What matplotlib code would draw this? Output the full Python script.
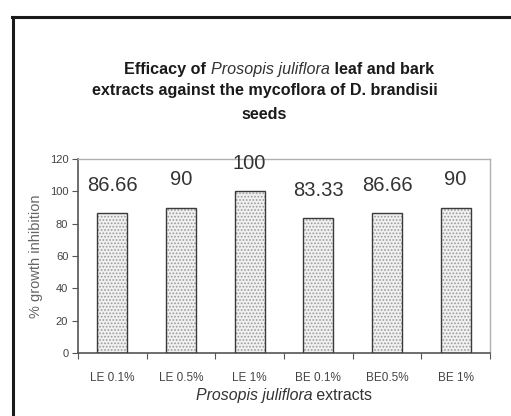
import matplotlib
matplotlib.use("Agg")
import matplotlib.pyplot as plt
from matplotlib.lines import Line2D
import numpy as np

plt.rcParams['font.family'] = ['Liberation Sans', 'DejaVu Sans']

categories = ["LE 0.1%", "LE 0.5%", "LE 1%", "BE 0.1%", "BE0.5%", "BE 1%"]
values = [86.66, 90, 100, 83.33, 86.66, 90]
value_labels = ["86.66", "90", "100", "83.33", "86.66", "90"]
yticks = [0, 20, 40, 60, 80, 100, 120]

W, H = 511, 416
fig = plt.figure(figsize=(W / 100, H / 100), dpi=100)
fig.patch.set_facecolor('white')

# outer frame
fig.add_artist(Line2D([13 / W, 13 / W], [0, 1 - 17 / H], color='#1a1a1a', lw=2.2,
                      transform=fig.transFigure))
fig.add_artist(Line2D([12 / W, 1], [1 - 17 / H, 1 - 17 / H], color='#1a1a1a', lw=2.2,
                      transform=fig.transFigure))

ax = fig.add_axes([78 / W, 1 - 353 / H, (490 - 78) / W, (353 - 159) / H])
x = np.arange(len(categories))

plt.rcParams['hatch.linewidth'] = 0.8
ax.bar(x, values, width=0.44, color='#f0f0f0', edgecolor='#9a9a9a', hatch='.....',
       linewidth=0, zorder=2)
ax.bar(x, values, width=0.44, fill=False, edgecolor='#3a3a3a', linewidth=1.0, zorder=3)

for xi, v, lab in zip(x, values, value_labels):
    ax.annotate(lab, (xi, v), xytext=(0, 13), textcoords='offset points',
                ha='center', va='bottom', fontsize=14.5, color='#333333')

ax.set_xlim(-0.5, len(categories) - 0.5)
ax.set_ylim(0, 120)
ax.set_yticks(yticks)
ax.set_yticklabels([str(t) for t in yticks], fontsize=8, color='#444444')
ax.set_xticks(np.arange(-0.5, len(categories), 1.0))
ax.set_xticklabels([])
ax.set_xticks(x, minor=True)
ax.set_xticklabels(categories, minor=True, fontsize=8.5, color='#444444')
ax.tick_params(axis='x', which='minor', length=0, pad=14)
ax.tick_params(axis='x', which='major', length=4, direction='out', color='#555555')
ax.tick_params(axis='y', length=4, direction='out', color='#555555', pad=3)

for s in ['left', 'bottom']:
    ax.spines[s].set_color('#555555')
    ax.spines[s].set_linewidth(1.2)
for s in ['top', 'right']:
    ax.spines[s].set_color('#b0b0b0')
    ax.spines[s].set_linewidth(1.0)

ax.set_ylabel("% growth inhibition", fontsize=10.5, color='#666666', labelpad=5)


def draw_segments(segments, x_start, y, fig, ha='left'):
    renderer = fig.canvas.get_renderer()
    widths = []
    texts = []
    for txt, kw in segments:
        t = fig.text(0, 0, txt, **kw)
        bb = t.get_window_extent(renderer=renderer)
        widths.append(bb.width)
        texts.append(t)
    total = sum(widths)
    if ha == 'center':
        cur = x_start - total / 2
    else:
        cur = x_start
    for t, w in zip(texts, widths):
        t.set_position((cur / W, 1 - y / H))
        t.set_va('baseline')
        cur += w


fig.canvas.draw()
bold = dict(fontsize=11.6, fontweight='bold', color='#1a1a1a')
ital = dict(fontsize=11.6, fontstyle='italic', color='#333333')
draw_segments([("Efficacy of ", bold), ("Prosopis juliflora", ital),
               (" leaf and bark", bold)], 279, 74, fig, ha='center')
draw_segments([("extracts against the mycoflora of D. brandisii", bold)], 265, 95, fig, ha='center')
draw_segments([("seeds", bold)], 264, 119, fig, ha='center')

xl_i = dict(fontsize=11.4, fontstyle='italic', color='#333333')
xl_n = dict(fontsize=11.4, color='#333333')
draw_segments([("Prosopis juliflora", xl_i), (" extracts", xl_n)], 284, 400, fig, ha='center')

fig.savefig("out.png", dpi=100)
